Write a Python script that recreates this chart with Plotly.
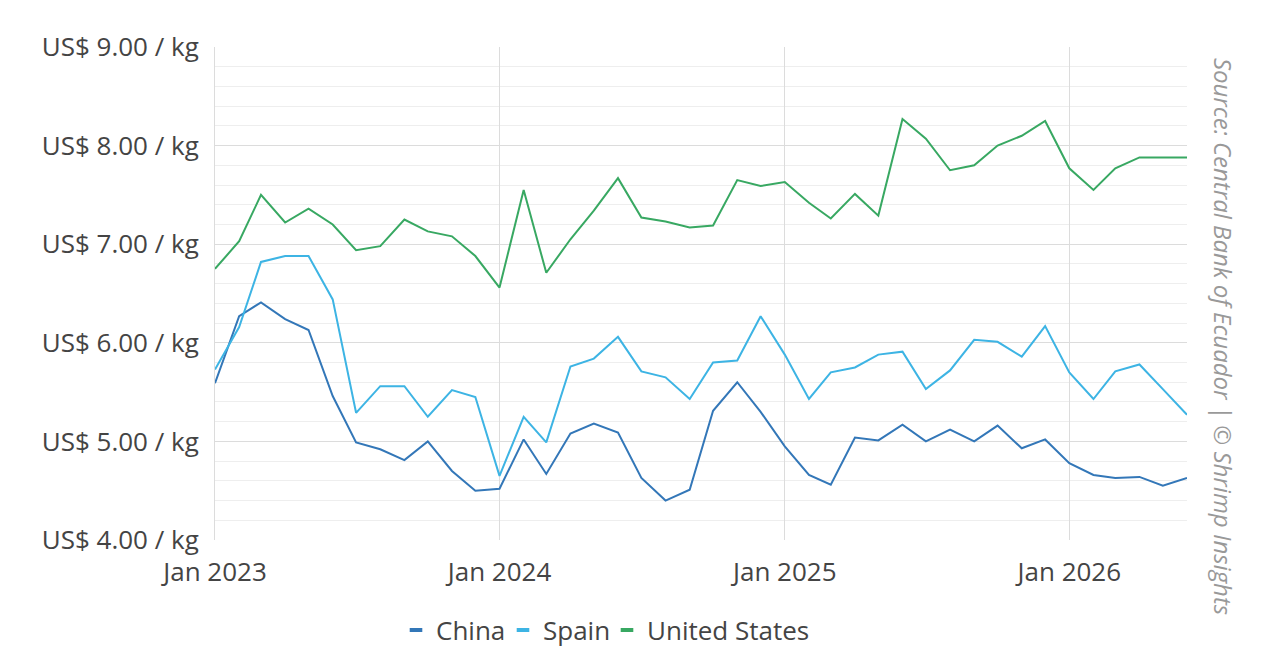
import pandas as pd
import plotly.graph_objects as go

# monthly export prices, Jan 2023 - Jun 2026
months = pd.date_range("2023-01-01", "2026-06-01", freq="MS")

china = [5.59, 6.27, 6.41, 6.24, 6.13, 5.46, 4.99, 4.92, 4.81, 5.00, 4.70, 4.50,
         4.52, 5.02, 4.67, 5.08, 5.18, 5.09, 4.63, 4.40, 4.51, 5.31, 5.60, 5.30,
         4.95, 4.66, 4.56, 5.04, 5.01, 5.17, 5.00, 5.12, 5.00, 5.16, 4.93, 5.02,
         4.78, 4.66, 4.63, 4.64, 4.55, 4.63]
spain = [5.73, 6.16, 6.82, 6.88, 6.88, 6.44, 5.29, 5.56, 5.56, 5.25, 5.52, 5.45,
         4.65, 5.25, 4.99, 5.76, 5.84, 6.06, 5.71, 5.65, 5.43, 5.80, 5.82, 6.27,
         5.88, 5.43, 5.70, 5.75, 5.88, 5.91, 5.53, 5.72, 6.03, 6.01, 5.86, 6.17,
         5.70, 5.43, 5.71, 5.78, 5.53, 5.27]
united_states = [6.75, 7.03, 7.50, 7.22, 7.36, 7.20, 6.94, 6.98, 7.25, 7.13, 7.08, 6.88,
                 6.56, 7.55, 6.71, 7.05, 7.34, 7.67, 7.27, 7.23, 7.17, 7.19, 7.65, 7.59,
                 7.63, 7.42, 7.26, 7.51, 7.29, 8.27, 8.07, 7.75, 7.80, 8.00, 8.10, 8.25,
                 7.77, 7.55, 7.77, 7.88, 7.88, 7.88]

series = [("China", china, "#3377b8"),
          ("Spain", spain, "#3db4e4"),
          ("United States", united_states, "#38a862")]

tick_dates = ["2023-01-01", "2024-01-01", "2025-01-01", "2026-01-01"]
tick_labels = ["Jan 2023", "Jan 2024", "Jan 2025", "Jan 2026"]

FONT = "Open Sans"
W, H = 1271, 651   # page body adds 8px, so the figure is a bit smaller than the window

# one small legend per series so the entries sit closer together
legend_names = ["legend", "legend2", "legend3"]
legend_left = [388, 495, 599]

fig = go.Figure()
for (name, vals, col), lg in zip(series, legend_names):
    fig.add_trace(go.Scatter(x=months, y=vals, mode="lines", name=name,
                             line=dict(color=col, width=2), showlegend=False))
    # short dash in the legend
    fig.add_trace(go.Scatter(x=[None], y=[None], mode="markers", name=name, legend=lg,
                             marker=dict(symbol="line-ew", size=9,
                                         line=dict(color=col, width=4))))

legend_style = dict(orientation="h", xref="container", yref="container",
                    xanchor="left", yanchor="middle", y=1 - 622 / H,
                    font=dict(size=26, color="#444444"), itemwidth=30,
                    bgcolor="rgba(0,0,0,0)")

fig.update_layout(
    width=W, height=H,
    margin=dict(l=207, r=92, t=39, b=119),
    paper_bgcolor="white", plot_bgcolor="white",
    font=dict(family=FONT, size=26, color="#444444"),
    legend=dict(legend_style, x=legend_left[0] / W),
    legend2=dict(legend_style, x=legend_left[1] / W),
    legend3=dict(legend_style, x=legend_left[2] / W),
    xaxis=dict(range=[months[0], months[-1]], tickvals=tick_dates, ticktext=tick_labels,
               showgrid=True, gridcolor="#dcdcdc", gridwidth=1,
               showline=False, zeroline=False, ticklabelstandoff=14,
               tickfont=dict(size=26, color="#444444")),
    yaxis=dict(range=[4, 9], dtick=1, tickformat=".2f",
               tickprefix="US$ ", ticksuffix=" / kg",
               showgrid=True, gridcolor="#dcdcdc", gridwidth=1,
               minor=dict(dtick=0.2, showgrid=True, gridcolor="#eeeeee"),
               showline=True, linecolor="#dcdcdc", zeroline=False,
               ticklabelstandoff=10, tickfont=dict(size=26, color="#444444")),
    annotations=[dict(text="<i>Source: Central Bank of Ecuador | © Shrimp Insights</i>",
                      xref="paper", yref="paper", x=1.037, y=0.412,
                      xanchor="center", yanchor="middle", textangle=90,
                      showarrow=False, font=dict(family=FONT, size=24, color="#999999"))],
)

fig.write_html("out.html")
